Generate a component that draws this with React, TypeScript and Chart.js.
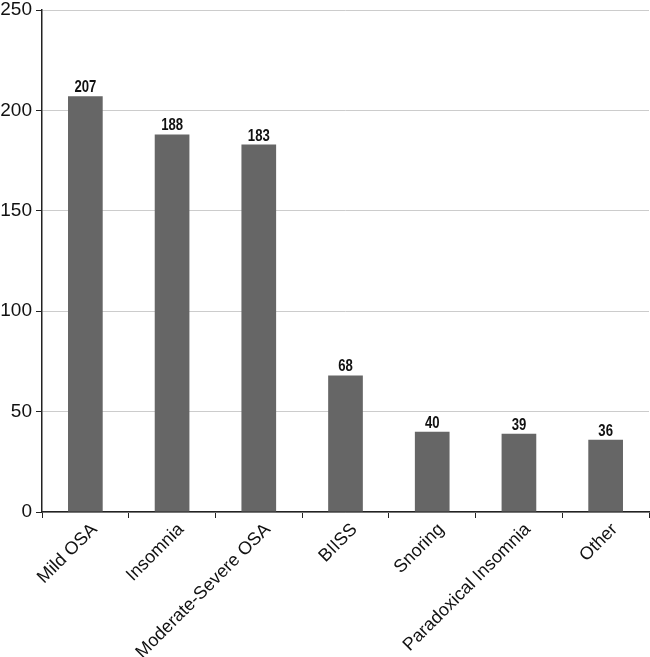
import React, { useEffect, useRef } from "react";
import { Chart, registerables } from "chart.js";

Chart.register(...registerables);

const categories = [
  "Mild OSA",
  "Insomnia",
  "Moderate-Severe OSA",
  "BIISS",
  "Snoring",
  "Paradoxical Insomnia",
  "Other",
];
const counts = [207, 188, 183, 68, 40, 39, 36];
const yTicks = [0, 50, 100, 150, 200, 250];

const valueLabels = {
  id: "valueLabels",
  afterDatasetsDraw(chart: any) {
    const ctx = chart.ctx;
    const meta = chart.getDatasetMeta(0);
    meta.data.forEach((bar: any, i: number) => {
      ctx.save();
      ctx.translate(bar.x, bar.y - 4);
      ctx.scale(0.82, 1);
      ctx.font = "bold 16px 'Liberation Sans', Arial, sans-serif";
      ctx.fillStyle = "#111";
      ctx.textAlign = "center";
      ctx.textBaseline = "alphabetic";
      ctx.fillText(String(counts[i]), 0, 0);
      ctx.restore();
    });
  },
};

export default function App() {
  const ref = useRef<HTMLCanvasElement | null>(null);
  useEffect(() => {
    document.body.style.margin = "0";
    const c = ref.current!;
    const chart = new Chart(c, {
      type: "bar",
      data: {
        labels: categories,
        datasets: [
          {
            data: counts,
            backgroundColor: "#666666",
            barPercentage: 0.4,
            categoryPercentage: 1,
          },
        ],
      },
      options: {
        animation: false,
        responsive: false,
        maintainAspectRatio: false,
        devicePixelRatio: 1,
        layout: { padding: { top: 10, right: 1, left: 0, bottom: 0 } },
        plugins: {
          legend: { display: false },
          tooltip: { enabled: false },
        },
        scales: {
          x: {
            offset: true,
            afterFit: (s: any) => {
              s.height = 145;
              s.paddingRight = 0;
              s.paddingLeft = 0;
            },
            grid: {
              offset: true,
              drawOnChartArea: false,
              drawTicks: true,
              tickLength: 6,
              tickColor: "#222",
            },
            border: { color: "#222", width: 1.5 },
            ticks: {
              color: "#111",
              font: { family: "'Liberation Sans', Arial, sans-serif", size: 18 },
              maxRotation: 45,
              minRotation: 45,
              padding: 1,
              labelOffset: 9,
              autoSkip: false,
            },
          },
          y: {
            min: 0,
            max: 250,
            afterFit: (s: any) => {
              s.width = 42;
              s.paddingTop = 0;
              s.paddingBottom = 0;
            },
            afterBuildTicks: (s: any) => {
              s.ticks = yTicks.map((v) => ({ value: v }));
            },
            grid: {
              color: "#cccccc",
              tickColor: "#222",
              tickLength: 6,
              lineWidth: 1,
            },
            border: { color: "#222", width: 1.5 },
            ticks: {
              color: "#111",
              font: { family: "'Liberation Sans', Arial, sans-serif", size: 19 },
              padding: 4,
            },
          },
        },
      },
      plugins: [valueLabels],
    });
    return () => chart.destroy();
  }, []);
  return (
    <div style={{ width: 650, height: 657 }}>
      <canvas ref={ref} width={650} height={657} style={{ display: "block" }} />
    </div>
  );
}
